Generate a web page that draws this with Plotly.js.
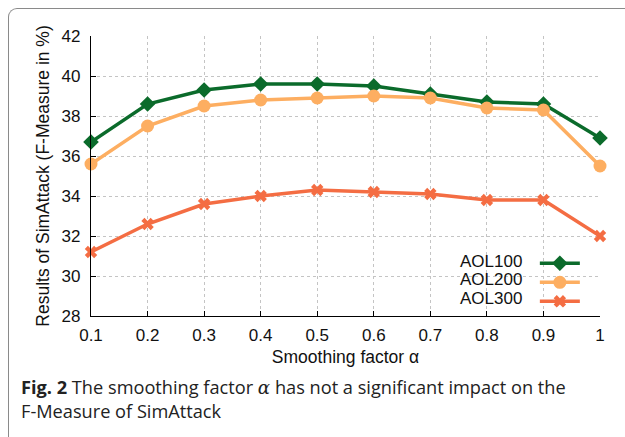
<!DOCTYPE html>
<html>
<head>
<meta charset="utf-8">
<script src="https://cdn.plot.ly/plotly-3.0.1.min.js"></script>
<style>
  html, body { margin: 0; padding: 0; background: #fff; width: 625px; height: 437px; overflow: hidden; }
  #frame { position: absolute; left: 8px; top: 8px; width: 800px; height: 600px;
           border-left: 1.5px solid #8a8a8a; border-top: 1.5px solid #8a8a8a; border-top-left-radius: 9px; }
  #chart { position: absolute; left: 0; top: 0; width: 625px; height: 437px; }
</style>
</head>
<body>
<div id="frame"></div>
<div id="chart"></div>
<script>
const alphas = [0.1, 0.2, 0.3, 0.4, 0.5, 0.6, 0.7, 0.8, 0.9, 1];
const aol100 = [36.7, 38.6, 39.3, 39.6, 39.6, 39.5, 39.1, 38.7, 38.6, 36.9];
const aol200 = [35.6, 37.5, 38.5, 38.8, 38.9, 39.0, 38.9, 38.4, 38.3, 35.5];
const aol300 = [31.2, 32.6, 33.6, 34.0, 34.3, 34.2, 34.1, 33.8, 33.8, 32.0];
const seriesNames = ['AOL100', 'AOL200', 'AOL300'];
const xTickVals = [0.1, 0.2, 0.3, 0.4, 0.5, 0.6, 0.7, 0.8, 0.9, 1];
const xTickText = ['0.1', '0.2', '0.3', '0.4', '0.5', '0.6', '0.7', '0.8', '0.9', '1'];
const yTickVals = [28, 30, 32, 34, 36, 38, 40, 42];

const colors = ['#0b6b2b', '#fdae61', '#f46d43'];
const symbols = ['diamond', 'circle', 'x'];
const sizes = [12, 13, 11];
const values = [aol100, aol200, aol300];

const traces = values.map((v, i) => ({
  x: alphas, y: v, type: 'scatter', mode: 'lines+markers',
  name: ' ', cliponaxis: false,
  line: { color: colors[i], width: 3.5 },
  marker: { symbol: symbols[i], size: sizes[i], color: colors[i], line: { width: 0, color: colors[i] } }
}));

const tickFont = { family: 'Liberation Sans', size: 17, color: '#111' };
const titleFont = { family: 'Liberation Sans', size: 17.5, color: '#111' };

const legendY = [0.193, 0.129, 0.064];
const annotations = seriesNames.map((n, i) => ({
  xref: 'paper', yref: 'paper', x: 0.851, y: legendY[i], xanchor: 'right', yanchor: 'middle',
  text: n, showarrow: false, font: tickFont
}));
annotations.push({
  xref: 'paper', yref: 'paper', x: -0.142, y: -0.205, xanchor: 'left', yanchor: 'top', align: 'left',
  showarrow: false,
  text: '<b>Fig. 2</b> The smoothing factor <span style="font-family:\'DejaVu Serif\'"><i>α</i></span> has not a significant impact on the<br>F-Measure of SimAttack',
  font: { family: 'Open Sans', size: 18.2, color: '#222' }
});

const layout = {
  width: 625, height: 437,
  margin: { l: 91, r: 25, t: 36, b: 121 },
  paper_bgcolor: 'rgba(0,0,0,0)', plot_bgcolor: 'rgba(0,0,0,0)',
  showlegend: true,
  legend: { x: 0.872, y: 0.24, xanchor: 'left', yanchor: 'top', bgcolor: 'rgba(0,0,0,0)',
            font: { size: 9 }, tracegroupgap: 0, itemwidth: 40 },
  xaxis: {
    range: [0.1, 1], tickvals: xTickVals, ticktext: xTickText,
    showline: true, linecolor: '#000', linewidth: 1.2, mirror: false,
    ticks: 'inside', ticklen: 5, tickcolor: '#000', ticklabelstandoff: 3,
    showgrid: true, gridcolor: '#c4c4c4', griddash: 'dot', gridwidth: 1,
    zeroline: false, tickfont: tickFont,
    title: { text: 'Smoothing factor α', font: titleFont, standoff: 7 }
  },
  yaxis: {
    range: [28, 42], tickvals: yTickVals,
    showline: true, linecolor: '#000', linewidth: 1.2,
    ticks: 'inside', ticklen: 5, tickcolor: '#000', ticklabelstandoff: 6,
    showgrid: true, gridcolor: '#c4c4c4', griddash: 'dot', gridwidth: 1,
    zeroline: false, tickfont: tickFont,
    title: { text: 'Results of SimAttack (F-Measure in %)', font: titleFont, standoff: 7 }
  },
  annotations: annotations
};

Plotly.newPlot('chart', traces, layout, { displayModeBar: false, staticPlot: true });
</script>
</body>
</html>
